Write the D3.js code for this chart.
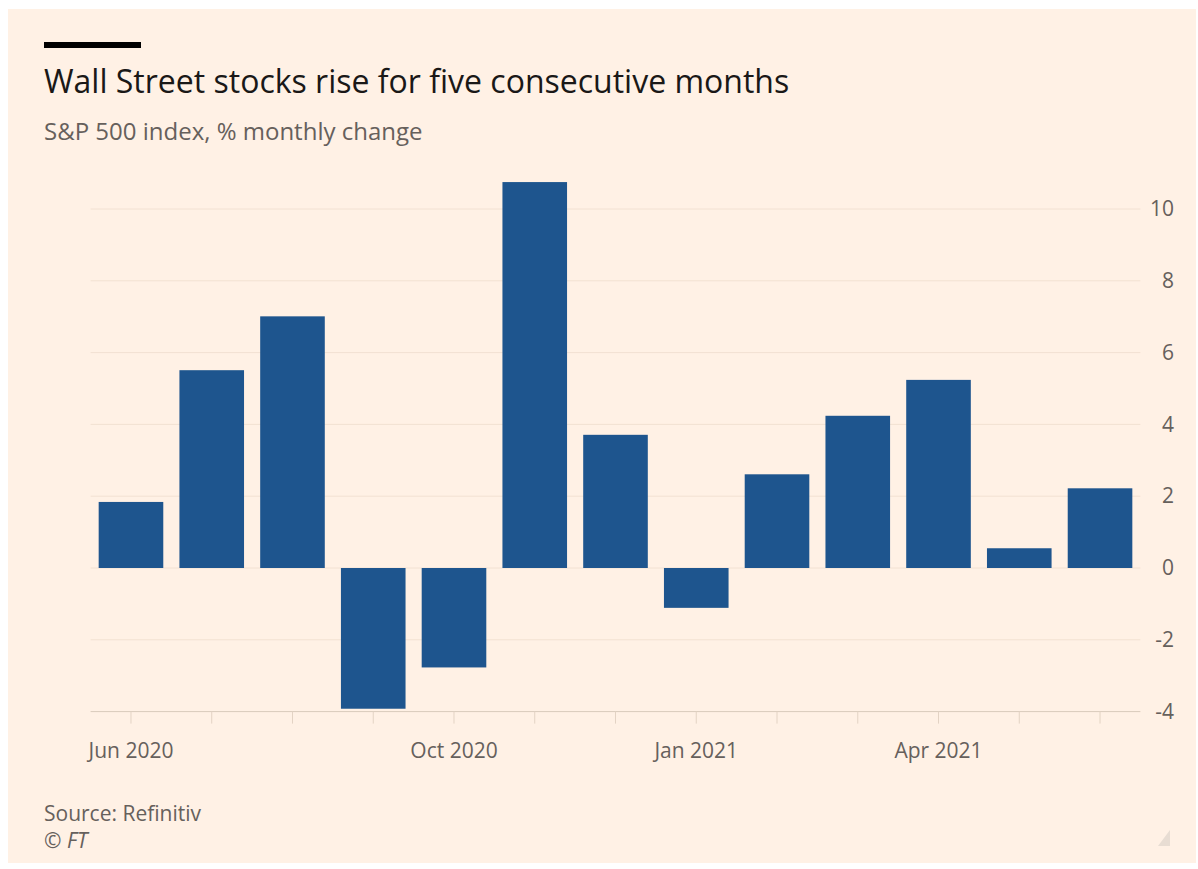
<!DOCTYPE html>
<html>
<head>
<meta charset="utf-8">
<script src="https://cdn.jsdelivr.net/npm/d3@7"></script>
<style>
  html, body { margin: 0; padding: 0; background: #ffffff; }
  svg { display: block; }
</style>
</head>
<body>
<svg id="chart" width="1198" height="869"></svg>
<script>
// S&P 500 monthly % change, Jun 2020 – Jun 2021
const months = ["2020-06", "2020-07", "2020-08", "2020-09", "2020-10", "2020-11", "2020-12",
                "2021-01", "2021-02", "2021-03", "2021-04", "2021-05", "2021-06"];
const changes = [1.84, 5.51, 7.01, -3.92, -2.77, 10.75, 3.71, -1.11, 2.61, 4.24, 5.24, 0.55, 2.22];
const yTicks = [-4, -2, 0, 2, 4, 6, 8, 10];
const xLabels = { "2020-06": "Jun 2020", "2020-10": "Oct 2020", "2021-01": "Jan 2021", "2021-04": "Apr 2021" };

const titleText = "Wall Street stocks rise for five consecutive months";
const subtitleText = "S&P 500 index, % monthly change";
const sourceText = "Source: Refinitiv";
const creditText = "© FT";

const FONT = "'Open Sans', Lato, sans-serif";
const svg = d3.select("#chart");

// panel background
svg.append("rect").attr("x", 8).attr("y", 9).attr("width", 1188).attr("height", 854)
  .attr("fill", "#fff1e5");

// header rule
svg.append("rect").attr("x", 44).attr("y", 42).attr("width", 97).attr("height", 6).attr("fill", "#000");

svg.append("text").attr("x", 44).attr("y", 93)
  .attr("font-family", FONT).attr("font-size", 32).attr("fill", "#1a1817")
  .text(titleText);

svg.append("text").attr("x", 44).attr("y", 140)
  .attr("font-family", FONT).attr("font-size", 24).attr("fill", "#66605c")
  .text(subtitleText);

const x = d3.scaleBand().domain(months).range([90.6, 1140.4]).paddingInner(0.2).paddingOuter(0.1);
const y = d3.scaleLinear().domain([-4, 10]).range([711.6, 209]);

const plotLeft = 90.6, plotRight = 1140.4;

// horizontal gridlines
svg.append("g").selectAll("line").data(yTicks.filter(d => d !== -4)).join("line")
  .attr("x1", plotLeft).attr("x2", plotRight)
  .attr("y1", d => y(d)).attr("y2", d => y(d))
  .attr("stroke", "#f2e1d2").attr("stroke-width", 1);

// right-hand value axis (plain hyphen for negatives)
const yAxis = svg.append("g").attr("transform", `translate(1174,0)`)
  .call(d3.axisLeft(y).tickValues(yTicks).tickSize(0).tickPadding(0).tickFormat(d => String(d)));
yAxis.select(".domain").remove();
yAxis.selectAll("text").attr("font-family", FONT).attr("font-size", 21).attr("fill", "#66605c")
  .attr("text-anchor", "end");

// bars
svg.append("g").selectAll("rect").data(months.map((m, i) => ({ m, v: changes[i] }))).join("rect")
  .attr("x", d => x(d.m))
  .attr("width", x.bandwidth())
  .attr("y", d => y(Math.max(0, d.v)))
  .attr("height", d => Math.abs(y(d.v) - y(0)))
  .attr("fill", "#1e558e");

// month axis along the bottom
const xAxis = svg.append("g").attr("transform", `translate(0,${y(-4)})`)
  .call(d3.axisBottom(x).tickSize(12).tickPadding(19).tickFormat(d => xLabels[d] || ""));
xAxis.select(".domain").attr("d", `M${plotLeft},0H${plotRight}`).attr("stroke", "#d9cabb");
xAxis.selectAll(".tick line").attr("stroke", "#e3d3c4");
xAxis.selectAll("text").attr("font-family", FONT).attr("font-size", 21).attr("fill", "#66605c");

// footer
svg.append("text").attr("x", 44).attr("y", 821)
  .attr("font-family", FONT).attr("font-size", 21).attr("fill", "#66605c")
  .text(sourceText);
svg.append("text").attr("x", 44).attr("y", 848)
  .attr("font-family", FONT).attr("font-size", 21).attr("font-style", "italic").attr("fill", "#66605c")
  .text(creditText);

// corner mark
svg.append("path").attr("d", "M1170,830 L1170,846 L1158,846 Z").attr("fill", "#e8ddd3");
</script>
</body>
</html>
